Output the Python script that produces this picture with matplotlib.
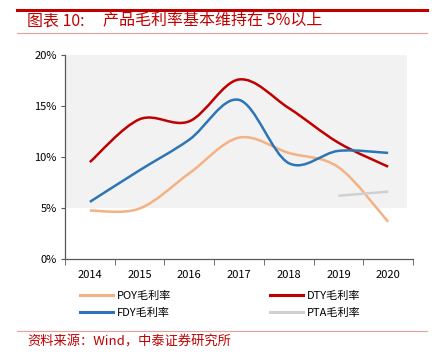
import matplotlib.pyplot as plt
import numpy as np
from matplotlib.path import Path
from matplotlib.patches import PathPatch
from matplotlib.lines import Line2D

plt.rcParams['font.family'] = ['Noto Sans CJK SC', 'DejaVu Sans']

# data (gross margin, %)
years = ['2014', '2015', '2016', '2017', '2018', '2019', '2020']
poy = [4.75, 4.95, 8.4, 11.9, 10.4, 9.0, 3.65]
dty = [9.5, 13.7, 13.5, 17.6, 14.8, 11.4, 9.05]
fdy = [5.6, 8.7, 11.7, 15.6, 9.4, 10.6, 10.4]
pta_years = ['2019', '2020']
pta = [6.2, 6.6]

labels = ['POY毛利率', 'DTY毛利率', 'FDY毛利率', 'PTA毛利率']
colors = ['#F4B183', '#C00000', '#2E75B6', '#D0D0D0']


def smooth_path(xs, ys):
    # excel-like smoothed line (catmull-rom as bezier)
    pts = np.column_stack([xs, ys]).astype(float)
    n = len(pts)
    verts = [pts[0]]
    codes = [Path.MOVETO]
    for i in range(n - 1):
        p0 = pts[max(i - 1, 0)]
        p1 = pts[i]
        p2 = pts[i + 1]
        p3 = pts[min(i + 2, n - 1)]
        verts += [p1 + (p2 - p0) / 6, p2 - (p3 - p1) / 6, p2]
        codes += [Path.CURVE4] * 3
    return Path(verts, codes)


fig = plt.figure(figsize=(4.32, 3.63), dpi=100)
ax = fig.add_axes([65 / 432, 1 - 259 / 363, 348 / 432, 204 / 363])

ax.axhspan(5, 20, xmin=0, xmax=(407 - 65) / 348, color='#F2F2F2', lw=0, zorder=0)

x = np.arange(len(years))
series = [(x, poy), (x, dty), (x, fdy), (np.array([years.index(y) for y in pta_years]), pta)]
for (xs, ys), c in zip(series, colors):
    ax.add_patch(PathPatch(smooth_path(xs, ys), fill=False, edgecolor=c, lw=1.8,
                           capstyle='butt', zorder=3))

ax.set_xlim(-0.5, len(years) - 0.5)
ax.set_ylim(0, 20)
ax.set_xticks(x)
ax.set_xticklabels(years)
ax.set_xticks(np.arange(-0.5, len(years)), minor=True)
ax.tick_params(axis='x', which='major', length=0, pad=8, labelsize=8)
ax.tick_params(axis='x', which='minor', length=4, direction='out', color='#595959')
ax.set_yticks([0, 5, 10, 15, 20])
ax.set_yticklabels(['0%', '5%', '10%', '15%', '20%'])
ax.tick_params(axis='y', length=3, direction='out', color='#595959', labelsize=8, pad=3)
for s in ['top', 'right']:
    ax.spines[s].set_visible(False)
for s in ['left', 'bottom']:
    ax.spines[s].set_color('#595959')
    ax.spines[s].set_linewidth(0.9)

handles = [Line2D([], [], color=c, lw=2.2) for c in colors]
order = [0, 2, 1, 3]
fig.legend([handles[i] for i in order], [labels[i] for i in order], ncol=2,
           loc='upper left', bbox_to_anchor=(70 / 432, 1 - 281 / 363),
           frameon=False, fontsize=8, handlelength=3.0, handletextpad=0.3,
           columnspacing=8.9, labelspacing=0.55)

# title block
red = '#C00000'
fig.add_artist(Line2D([17 / 432, 427 / 432], [1 - 10 / 363] * 2, color=red, lw=2.2))
fig.add_artist(Line2D([17 / 432, 427 / 432], [1 - 33 / 363] * 2, color='#E6A0A0', lw=0.8))
fig.text(27 / 432, 1 - 21 / 363, '图表 10:', color=red,
         fontsize=11.5, va='center', ha='left')
fig.text(103 / 432, 1 - 21 / 363, '产品毛利率基本维持在 5%以上', color=red,
         fontsize=11.5, va='center', ha='left')

fig.add_artist(Line2D([17 / 432, 427 / 432], [1 - 331 / 363] * 2, color='#E6A0A0', lw=0.8))
fig.text(27 / 432, 1 - 342 / 363, '资料来源：Wind，中泰证券研究所', color=red,
         fontsize=9.5, va='center', ha='left')

fig.savefig('out.png', dpi=100)
